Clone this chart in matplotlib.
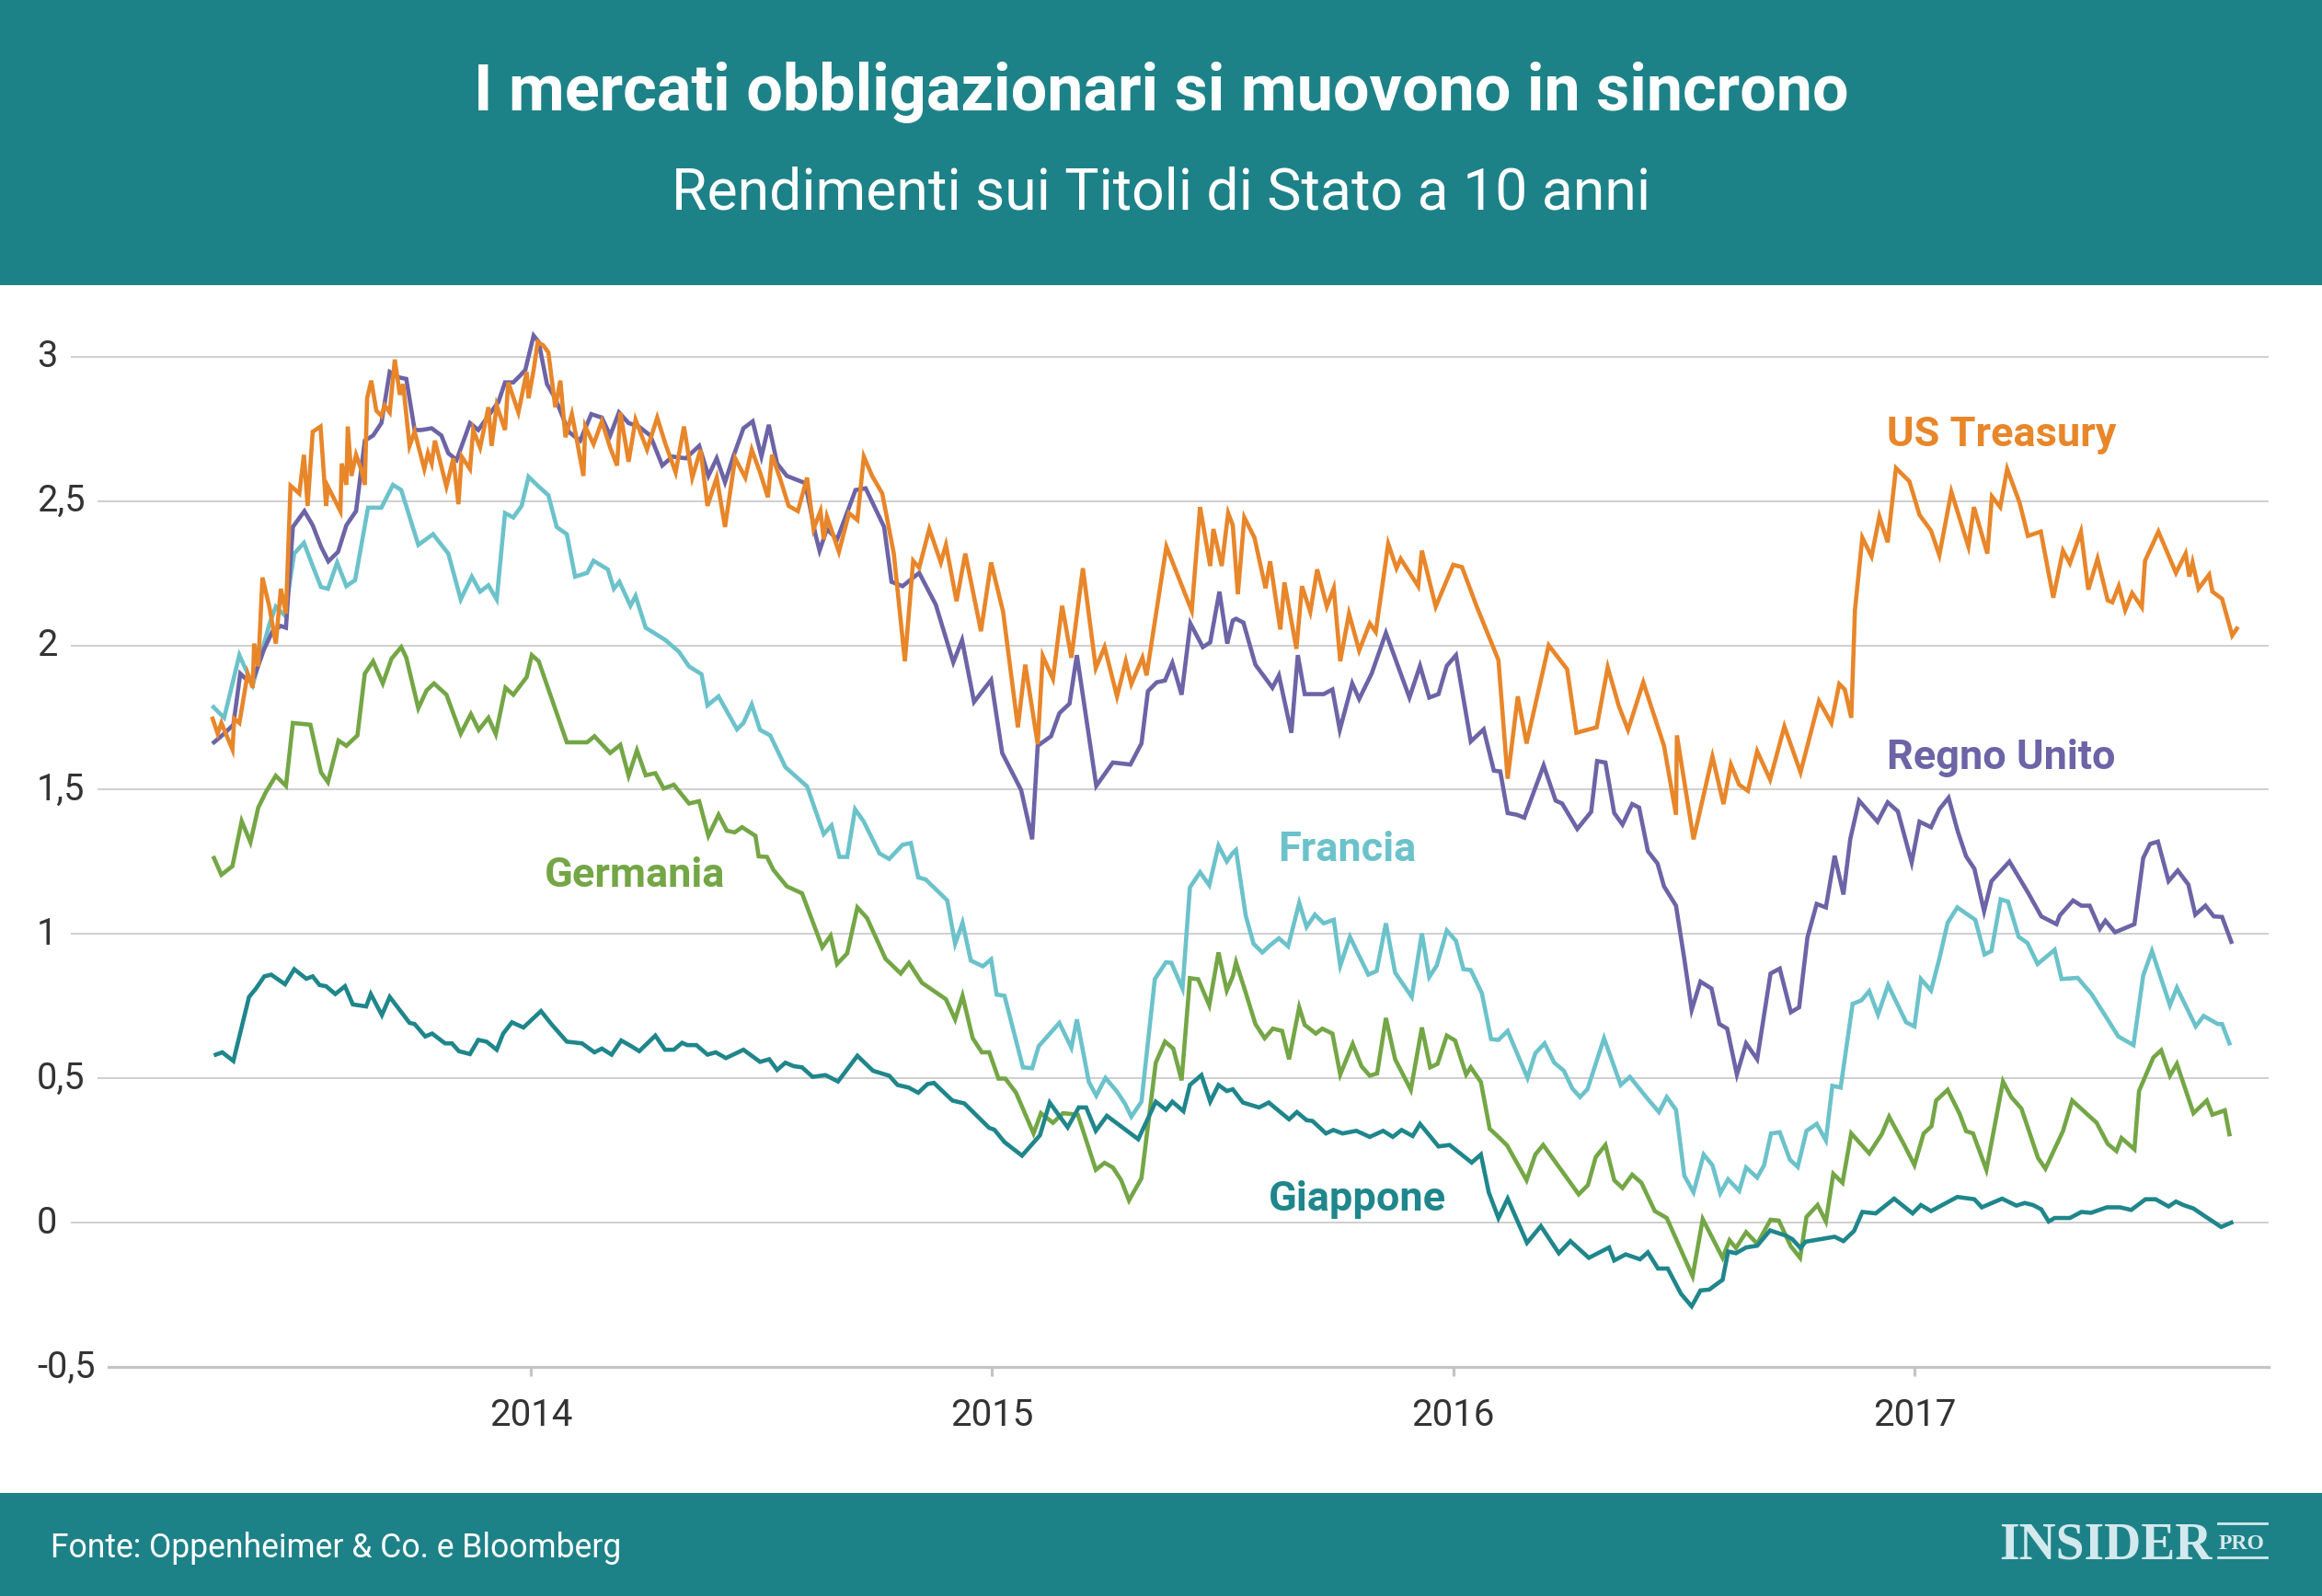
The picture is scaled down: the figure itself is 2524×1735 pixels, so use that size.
import matplotlib
matplotlib.use("Agg")
import matplotlib.pyplot as plt
from matplotlib.patches import Rectangle
from matplotlib.lines import Line2D
import matplotlib.transforms as mtransforms

# ---------------- DATA (decimal year, 10y yield %) ----------------
us_treasury = [
    (2013.310, 1.746), (2013.321, 1.694), (2013.329, 1.731), (2013.353, 1.639), (2013.357, 1.746),
    (2013.368, 1.731), (2013.386, 1.902), (2013.397, 1.853), (2013.400, 2.006), (2013.409, 1.927),
    (2013.418, 2.235), (2013.433, 2.134), (2013.447, 2.006), (2013.458, 2.196), (2013.469, 2.110),
    (2013.479, 2.553), (2013.498, 2.526), (2013.508, 2.660), (2013.516, 2.483), (2013.527, 2.740),
    (2013.544, 2.758), (2013.556, 2.483), (2013.560, 2.550), (2013.587, 2.465), (2013.590, 2.630),
    (2013.600, 2.556), (2013.603, 2.758), (2013.611, 2.587), (2013.621, 2.660), (2013.632, 2.611),
    (2013.640, 2.556), (2013.645, 2.856), (2013.654, 2.917), (2013.665, 2.813), (2013.676, 2.795),
    (2013.683, 2.831), (2013.694, 2.807), (2013.705, 2.990), (2013.716, 2.868), (2013.723, 2.905),
    (2013.737, 2.691), (2013.748, 2.740), (2013.769, 2.611), (2013.777, 2.666), (2013.785, 2.630),
    (2013.792, 2.709), (2013.817, 2.550), (2013.832, 2.648), (2013.843, 2.489), (2013.850, 2.654),
    (2013.868, 2.611), (2013.875, 2.746), (2013.890, 2.685), (2013.908, 2.825), (2013.915, 2.691),
    (2013.926, 2.831), (2013.944, 2.746), (2013.951, 2.911), (2013.973, 2.807), (2013.991, 2.947),
    (2013.995, 2.856), (2014.006, 2.954), (2014.015, 3.051), (2014.027, 3.039), (2014.038, 3.015),
    (2014.053, 2.825), (2014.064, 2.917), (2014.075, 2.721), (2014.089, 2.801), (2014.100, 2.709),
    (2014.114, 2.587), (2014.118, 2.758), (2014.136, 2.697), (2014.154, 2.776), (2014.172, 2.685),
    (2014.187, 2.623), (2014.194, 2.807), (2014.212, 2.636), (2014.227, 2.782), (2014.252, 2.678),
    (2014.274, 2.789), (2014.292, 2.697), (2014.314, 2.599), (2014.332, 2.758), (2014.350, 2.581),
    (2014.368, 2.678), (2014.383, 2.483), (2014.403, 2.581), (2014.421, 2.410), (2014.443, 2.648),
    (2014.465, 2.581), (2014.479, 2.678), (2014.497, 2.599), (2014.514, 2.513), (2014.523, 2.660),
    (2014.541, 2.575), (2014.559, 2.483), (2014.579, 2.465), (2014.599, 2.581), (2014.613, 2.403),
    (2014.628, 2.465), (2014.635, 2.367), (2014.642, 2.446), (2014.668, 2.324), (2014.690, 2.458),
    (2014.708, 2.434), (2014.722, 2.654), (2014.740, 2.587), (2014.762, 2.526), (2014.787, 2.318),
    (2014.811, 1.945), (2014.829, 2.293), (2014.842, 2.269), (2014.864, 2.403), (2014.889, 2.287),
    (2014.900, 2.348), (2014.923, 2.153), (2014.942, 2.318), (2014.976, 2.049), (2014.998, 2.287),
    (2015.024, 2.116), (2015.056, 1.716), (2015.072, 1.933), (2015.099, 1.658), (2015.110, 1.963),
    (2015.132, 1.884), (2015.152, 2.137), (2015.172, 1.957), (2015.197, 2.267), (2015.225, 1.921),
    (2015.244, 1.994), (2015.271, 1.823), (2015.290, 1.945), (2015.302, 1.866), (2015.326, 1.957),
    (2015.335, 1.896), (2015.378, 2.342), (2015.433, 2.120), (2015.451, 2.479), (2015.473, 2.275),
    (2015.480, 2.403), (2015.498, 2.275), (2015.512, 2.458), (2015.522, 2.416), (2015.533, 2.177),
    (2015.547, 2.443), (2015.569, 2.373), (2015.593, 2.198), (2015.603, 2.291), (2015.625, 2.055),
    (2015.634, 2.218), (2015.660, 1.988), (2015.672, 2.205), (2015.690, 2.116), (2015.705, 2.263),
    (2015.726, 2.134), (2015.741, 2.198), (2015.755, 1.945), (2015.774, 2.110), (2015.796, 1.982),
    (2015.819, 2.076), (2015.832, 2.046), (2015.859, 2.352), (2015.877, 2.267), (2015.886, 2.300),
    (2015.924, 2.205), (2015.932, 2.328), (2015.962, 2.134), (2016.000, 2.279), (2016.019, 2.271),
    (2016.051, 2.134), (2016.098, 1.949), (2016.118, 1.538), (2016.140, 1.823), (2016.159, 1.660),
    (2016.207, 2.000), (2016.247, 1.917), (2016.267, 1.697), (2016.311, 1.716), (2016.335, 1.924),
    (2016.359, 1.790), (2016.379, 1.707), (2016.412, 1.872), (2016.457, 1.652), (2016.483, 1.413),
    (2016.485, 1.688), (2016.521, 1.328), (2016.562, 1.615), (2016.586, 1.450), (2016.602, 1.587),
    (2016.620, 1.517), (2016.639, 1.496), (2016.659, 1.633), (2016.687, 1.535), (2016.718, 1.719),
    (2016.753, 1.560), (2016.793, 1.807), (2016.820, 1.731), (2016.837, 1.866), (2016.849, 1.847),
    (2016.863, 1.749), (2016.871, 2.122), (2016.887, 2.373), (2016.907, 2.308), (2016.924, 2.446),
    (2016.942, 2.357), (2016.960, 2.614), (2016.989, 2.568), (2017.011, 2.452), (2017.036, 2.397),
    (2017.054, 2.312), (2017.080, 2.532), (2017.117, 2.342), (2017.129, 2.479), (2017.158, 2.318),
    (2017.168, 2.516), (2017.186, 2.479), (2017.201, 2.611), (2017.228, 2.494), (2017.246, 2.379),
    (2017.274, 2.394), (2017.301, 2.165), (2017.322, 2.328), (2017.337, 2.284), (2017.361, 2.394),
    (2017.377, 2.193), (2017.397, 2.300), (2017.419, 2.156), (2017.429, 2.149), (2017.443, 2.205),
    (2017.457, 2.122), (2017.472, 2.181), (2017.493, 2.132), (2017.500, 2.293), (2017.529, 2.394),
    (2017.567, 2.251), (2017.588, 2.318), (2017.596, 2.238), (2017.603, 2.287), (2017.616, 2.196),
    (2017.639, 2.245), (2017.646, 2.186), (2017.667, 2.161), (2017.689, 2.034), (2017.699, 2.058),
]

regno_unito = [
    (2013.313, 1.664), (2013.335, 1.694), (2013.355, 1.725), (2013.370, 1.902), (2013.386, 1.878),
    (2013.400, 1.890), (2013.422, 1.988), (2013.440, 2.049), (2013.458, 2.067), (2013.469, 2.061),
    (2013.484, 2.410), (2013.509, 2.465), (2013.527, 2.416), (2013.545, 2.342), (2013.561, 2.291),
    (2013.582, 2.324), (2013.600, 2.416), (2013.621, 2.465), (2013.640, 2.709), (2013.658, 2.727),
    (2013.676, 2.770), (2013.694, 2.947), (2013.712, 2.929), (2013.730, 2.923), (2013.748, 2.746),
    (2013.763, 2.746), (2013.785, 2.752), (2013.806, 2.727), (2013.821, 2.666), (2013.839, 2.642),
    (2013.868, 2.770), (2013.886, 2.746), (2013.908, 2.795), (2013.930, 2.844), (2013.944, 2.911),
    (2013.962, 2.911), (2013.977, 2.935), (2013.988, 2.954), (2014.006, 3.073), (2014.017, 3.051),
    (2014.035, 2.905), (2014.053, 2.856), (2014.082, 2.740), (2014.107, 2.709), (2014.131, 2.801),
    (2014.154, 2.789), (2014.172, 2.727), (2014.191, 2.807), (2014.212, 2.770), (2014.234, 2.758),
    (2014.259, 2.727), (2014.285, 2.623), (2014.307, 2.654), (2014.336, 2.648), (2014.365, 2.691),
    (2014.385, 2.587), (2014.403, 2.648), (2014.421, 2.565), (2014.439, 2.654), (2014.461, 2.752),
    (2014.481, 2.776), (2014.500, 2.654), (2014.516, 2.764), (2014.534, 2.630), (2014.555, 2.587),
    (2014.595, 2.562), (2014.617, 2.385), (2014.626, 2.328), (2014.642, 2.403), (2014.664, 2.367),
    (2014.704, 2.538), (2014.726, 2.544), (2014.766, 2.410), (2014.782, 2.220), (2014.806, 2.205),
    (2014.842, 2.251), (2014.878, 2.141), (2014.916, 1.941), (2014.935, 2.018), (2014.961, 1.804),
    (2014.998, 1.880), (2015.022, 1.627), (2015.063, 1.499), (2015.087, 1.328), (2015.099, 1.652),
    (2015.128, 1.685), (2015.146, 1.765), (2015.168, 1.798), (2015.184, 1.966), (2015.226, 1.513),
    (2015.262, 1.594), (2015.300, 1.587), (2015.324, 1.660), (2015.338, 1.841), (2015.357, 1.872),
    (2015.375, 1.878), (2015.391, 1.939), (2015.411, 1.829), (2015.430, 2.076), (2015.457, 1.994),
    (2015.473, 2.010), (2015.493, 2.186), (2015.510, 2.006), (2015.522, 2.086), (2015.529, 2.092),
    (2015.545, 2.079), (2015.571, 1.933), (2015.591, 1.890), (2015.608, 1.853), (2015.622, 1.896),
    (2015.649, 1.697), (2015.663, 1.966), (2015.678, 1.831), (2015.719, 1.831), (2015.738, 1.847),
    (2015.754, 1.707), (2015.781, 1.868), (2015.796, 1.814), (2015.823, 1.902), (2015.854, 2.043),
    (2015.905, 1.819), (2015.928, 1.929), (2015.948, 1.819), (2015.968, 1.831), (2015.986, 1.929),
    (2016.006, 1.966), (2016.038, 1.667), (2016.066, 1.709), (2016.088, 1.566), (2016.102, 1.563),
    (2016.118, 1.419), (2016.138, 1.413), (2016.154, 1.403), (2016.196, 1.584), (2016.222, 1.462),
    (2016.236, 1.452), (2016.269, 1.364), (2016.299, 1.423), (2016.312, 1.599), (2016.330, 1.594),
    (2016.349, 1.419), (2016.367, 1.379), (2016.388, 1.450), (2016.403, 1.438), (2016.422, 1.287),
    (2016.443, 1.244), (2016.457, 1.165), (2016.483, 1.098), (2016.501, 0.914), (2016.517, 0.737),
    (2016.536, 0.835), (2016.560, 0.811), (2016.577, 0.688), (2016.594, 0.672), (2016.615, 0.513),
    (2016.635, 0.621), (2016.659, 0.566), (2016.688, 0.863), (2016.708, 0.880), (2016.732, 0.729),
    (2016.750, 0.746), (2016.768, 0.988), (2016.788, 1.104), (2016.808, 1.092), (2016.827, 1.271),
    (2016.846, 1.137), (2016.861, 1.330), (2016.880, 1.462), (2016.920, 1.389), (2016.942, 1.456),
    (2016.964, 1.425), (2016.994, 1.248), (2017.011, 1.389), (2017.036, 1.370), (2017.054, 1.432),
    (2017.074, 1.472), (2017.094, 1.355), (2017.112, 1.269), (2017.130, 1.226), (2017.151, 1.079),
    (2017.167, 1.183), (2017.206, 1.251), (2017.246, 1.144), (2017.275, 1.061), (2017.308, 1.034),
    (2017.315, 1.064), (2017.344, 1.116), (2017.362, 1.098), (2017.380, 1.098), (2017.402, 1.018),
    (2017.414, 1.046), (2017.435, 1.006), (2017.477, 1.034), (2017.496, 1.263), (2017.511, 1.312),
    (2017.528, 1.320), (2017.551, 1.183), (2017.571, 1.220), (2017.594, 1.171), (2017.609, 1.067),
    (2017.631, 1.098), (2017.649, 1.061), (2017.667, 1.059), (2017.687, 0.973),
]

francia = [
    (2013.312, 1.786), (2013.335, 1.749), (2013.368, 1.966), (2013.397, 1.863), (2013.433, 2.073),
    (2013.447, 2.134), (2013.466, 2.104), (2013.487, 2.318), (2013.508, 2.355), (2013.527, 2.275),
    (2013.545, 2.202), (2013.560, 2.196), (2013.580, 2.287), (2013.600, 2.205), (2013.619, 2.226),
    (2013.647, 2.477), (2013.676, 2.477), (2013.701, 2.556), (2013.719, 2.538), (2013.756, 2.348),
    (2013.788, 2.385), (2013.821, 2.318), (2013.848, 2.159), (2013.872, 2.238), (2013.890, 2.186),
    (2013.908, 2.208), (2013.926, 2.159), (2013.944, 2.458), (2013.962, 2.443), (2013.980, 2.483),
    (2013.995, 2.584), (2014.017, 2.550), (2014.038, 2.520), (2014.056, 2.410), (2014.078, 2.385),
    (2014.096, 2.238), (2014.122, 2.251), (2014.136, 2.293), (2014.167, 2.263), (2014.180, 2.196),
    (2014.192, 2.220), (2014.216, 2.137), (2014.227, 2.171), (2014.249, 2.061), (2014.292, 2.018),
    (2014.321, 1.978), (2014.343, 1.927), (2014.370, 1.900), (2014.383, 1.792), (2014.407, 1.823),
    (2014.447, 1.709), (2014.461, 1.731), (2014.479, 1.795), (2014.497, 1.707), (2014.519, 1.688),
    (2014.552, 1.578), (2014.599, 1.511), (2014.635, 1.346), (2014.652, 1.376), (2014.669, 1.267),
    (2014.686, 1.267), (2014.703, 1.432), (2014.722, 1.389), (2014.756, 1.279), (2014.777, 1.260),
    (2014.806, 1.309), (2014.824, 1.315), (2014.840, 1.196), (2014.856, 1.189), (2014.903, 1.116),
    (2014.920, 0.966), (2014.936, 1.039), (2014.954, 0.908), (2014.980, 0.888), (2014.998, 0.912),
    (2015.010, 0.790), (2015.027, 0.786), (2015.067, 0.538), (2015.087, 0.535), (2015.101, 0.611),
    (2015.146, 0.692), (2015.172, 0.606), (2015.184, 0.704), (2015.210, 0.487), (2015.226, 0.440),
    (2015.246, 0.501), (2015.270, 0.456), (2015.288, 0.413), (2015.302, 0.367), (2015.324, 0.419),
    (2015.353, 0.844), (2015.377, 0.902), (2015.389, 0.900), (2015.413, 0.811), (2015.429, 1.161),
    (2015.451, 1.214), (2015.471, 1.169), (2015.491, 1.306), (2015.509, 1.251), (2015.522, 1.281),
    (2015.529, 1.291), (2015.550, 1.064), (2015.567, 0.966), (2015.586, 0.936), (2015.603, 0.961),
    (2015.622, 0.985), (2015.642, 0.957), (2015.666, 1.108), (2015.682, 1.024), (2015.700, 1.067),
    (2015.719, 1.037), (2015.741, 1.049), (2015.755, 0.890), (2015.776, 0.990), (2015.796, 0.924),
    (2015.816, 0.859), (2015.834, 0.872), (2015.854, 1.037), (2015.874, 0.866), (2015.910, 0.782),
    (2015.932, 1.002), (2015.948, 0.851), (2015.964, 0.890), (2015.986, 1.012), (2016.006, 0.976),
    (2016.022, 0.878), (2016.038, 0.875), (2016.062, 0.795), (2016.082, 0.636), (2016.098, 0.633),
    (2016.118, 0.664), (2016.161, 0.501), (2016.178, 0.587), (2016.198, 0.621), (2016.219, 0.554),
    (2016.240, 0.526), (2016.258, 0.465), (2016.275, 0.435), (2016.291, 0.462), (2016.327, 0.639),
    (2016.363, 0.477), (2016.383, 0.505), (2016.422, 0.428), (2016.446, 0.383), (2016.463, 0.435),
    (2016.483, 0.391), (2016.501, 0.163), (2016.521, 0.105), (2016.543, 0.236), (2016.562, 0.199),
    (2016.579, 0.102), (2016.596, 0.150), (2016.620, 0.110), (2016.635, 0.191), (2016.659, 0.156),
    (2016.674, 0.199), (2016.689, 0.309), (2016.708, 0.313), (2016.730, 0.218), (2016.747, 0.193),
    (2016.766, 0.318), (2016.788, 0.342), (2016.808, 0.285), (2016.822, 0.474), (2016.840, 0.468),
    (2016.866, 0.758), (2016.885, 0.770), (2016.902, 0.802), (2016.921, 0.721), (2016.943, 0.823),
    (2016.982, 0.694), (2017.000, 0.680), (2017.014, 0.844), (2017.036, 0.804), (2017.054, 0.914),
    (2017.072, 1.039), (2017.093, 1.092), (2017.132, 1.049), (2017.152, 0.929), (2017.167, 0.941),
    (2017.187, 1.120), (2017.203, 1.112), (2017.226, 0.990), (2017.245, 0.969), (2017.267, 0.896),
    (2017.304, 0.945), (2017.319, 0.844), (2017.354, 0.848), (2017.384, 0.792), (2017.413, 0.719),
    (2017.442, 0.645), (2017.475, 0.615), (2017.496, 0.856), (2017.515, 0.941), (2017.554, 0.753),
    (2017.569, 0.814), (2017.610, 0.680), (2017.627, 0.716), (2017.658, 0.688), (2017.667, 0.688),
    (2017.683, 0.621),
]

germania = [
    (2013.313, 1.263), (2013.329, 1.205), (2013.353, 1.235), (2013.373, 1.391), (2013.392, 1.318),
    (2013.409, 1.438), (2013.426, 1.493), (2013.447, 1.548), (2013.469, 1.513), (2013.484, 1.731),
    (2013.522, 1.725), (2013.545, 1.560), (2013.560, 1.526), (2013.583, 1.670), (2013.600, 1.652),
    (2013.624, 1.688), (2013.640, 1.902), (2013.658, 1.945), (2013.679, 1.868), (2013.698, 1.954),
    (2013.719, 1.994), (2013.730, 1.957), (2013.756, 1.782), (2013.774, 1.844), (2013.790, 1.868),
    (2013.817, 1.829), (2013.848, 1.694), (2013.870, 1.762), (2013.887, 1.707), (2013.908, 1.749),
    (2013.924, 1.692), (2013.945, 1.853), (2013.962, 1.829), (2013.991, 1.890), (2014.002, 1.966),
    (2014.017, 1.945), (2014.078, 1.664), (2014.122, 1.664), (2014.138, 1.685), (2014.172, 1.627),
    (2014.194, 1.655), (2014.212, 1.548), (2014.230, 1.636), (2014.249, 1.550), (2014.270, 1.557),
    (2014.288, 1.504), (2014.310, 1.517), (2014.343, 1.452), (2014.365, 1.460), (2014.385, 1.340),
    (2014.407, 1.413), (2014.425, 1.358), (2014.442, 1.352), (2014.458, 1.370), (2014.487, 1.340),
    (2014.494, 1.269), (2014.512, 1.267), (2014.526, 1.222), (2014.555, 1.165), (2014.588, 1.141),
    (2014.632, 0.954), (2014.650, 0.994), (2014.664, 0.896), (2014.686, 0.933), (2014.708, 1.092),
    (2014.729, 1.055), (2014.769, 0.914), (2014.802, 0.863), (2014.820, 0.900), (2014.848, 0.831),
    (2014.900, 0.774), (2014.920, 0.704), (2014.936, 0.786), (2014.958, 0.639), (2014.978, 0.590),
    (2014.994, 0.590), (2015.014, 0.499), (2015.029, 0.499), (2015.052, 0.450), (2015.090, 0.309),
    (2015.106, 0.379), (2015.132, 0.346), (2015.154, 0.379), (2015.186, 0.374), (2015.225, 0.183),
    (2015.244, 0.207), (2015.262, 0.191), (2015.280, 0.147), (2015.297, 0.077), (2015.324, 0.154),
    (2015.355, 0.554), (2015.375, 0.627), (2015.393, 0.603), (2015.411, 0.493), (2015.429, 0.847),
    (2015.447, 0.843), (2015.471, 0.753), (2015.491, 0.936), (2015.509, 0.804), (2015.522, 0.853),
    (2015.529, 0.902), (2015.551, 0.792), (2015.571, 0.688), (2015.591, 0.639), (2015.609, 0.672),
    (2015.629, 0.664), (2015.644, 0.566), (2015.666, 0.746), (2015.678, 0.685), (2015.702, 0.655),
    (2015.716, 0.672), (2015.738, 0.655), (2015.755, 0.513), (2015.782, 0.619), (2015.801, 0.542),
    (2015.819, 0.509), (2015.835, 0.517), (2015.854, 0.709), (2015.874, 0.566), (2015.908, 0.460),
    (2015.932, 0.676), (2015.950, 0.538), (2015.966, 0.550), (2015.986, 0.648), (2016.004, 0.631),
    (2016.028, 0.513), (2016.038, 0.538), (2016.060, 0.487), (2016.079, 0.325), (2016.098, 0.297),
    (2016.117, 0.267), (2016.159, 0.147), (2016.178, 0.236), (2016.195, 0.269), (2016.272, 0.098),
    (2016.292, 0.130), (2016.309, 0.227), (2016.330, 0.269), (2016.349, 0.147), (2016.367, 0.120),
    (2016.388, 0.166), (2016.408, 0.138), (2016.437, 0.040), (2016.463, 0.016), (2016.519, -0.186),
    (2016.541, 0.012), (2016.584, -0.122), (2016.599, -0.061), (2016.613, -0.088), (2016.635, -0.033),
    (2016.659, -0.073), (2016.688, 0.010), (2016.706, 0.007), (2016.732, -0.082), (2016.752, -0.122),
    (2016.766, 0.020), (2016.790, 0.061), (2016.808, 0.004), (2016.824, 0.169), (2016.844, 0.138),
    (2016.863, 0.309), (2016.902, 0.240), (2016.929, 0.306), (2016.945, 0.367), (2016.978, 0.269),
    (2017.000, 0.199), (2017.020, 0.309), (2017.037, 0.334), (2017.047, 0.423), (2017.072, 0.460),
    (2017.098, 0.377), (2017.112, 0.317), (2017.127, 0.309), (2017.156, 0.183), (2017.192, 0.489),
    (2017.210, 0.435), (2017.232, 0.395), (2017.268, 0.224), (2017.284, 0.187), (2017.322, 0.317),
    (2017.342, 0.423), (2017.395, 0.346), (2017.419, 0.273), (2017.438, 0.248), (2017.449, 0.293),
    (2017.477, 0.254), (2017.487, 0.456), (2017.518, 0.572), (2017.535, 0.597), (2017.554, 0.509),
    (2017.569, 0.550), (2017.605, 0.379), (2017.634, 0.423), (2017.646, 0.374), (2017.673, 0.389),
    (2017.683, 0.306),
]

giappone = [
    (2013.317, 0.582), (2013.331, 0.590), (2013.355, 0.560), (2013.389, 0.782), (2013.404, 0.811),
    (2013.422, 0.853), (2013.437, 0.859), (2013.467, 0.826), (2013.487, 0.878), (2013.513, 0.845),
    (2013.527, 0.853), (2013.542, 0.823), (2013.556, 0.819), (2013.576, 0.792), (2013.597, 0.819),
    (2013.614, 0.756), (2013.643, 0.749), (2013.653, 0.792), (2013.677, 0.719), (2013.694, 0.782),
    (2013.737, 0.692), (2013.748, 0.688), (2013.771, 0.645), (2013.786, 0.655), (2013.814, 0.621),
    (2013.829, 0.621), (2013.844, 0.594), (2013.868, 0.584), (2013.886, 0.633), (2013.904, 0.627),
    (2013.926, 0.599), (2013.940, 0.655), (2013.959, 0.694), (2013.984, 0.676), (2014.022, 0.733),
    (2014.046, 0.685), (2014.078, 0.627), (2014.111, 0.621), (2014.138, 0.590), (2014.154, 0.603),
    (2014.175, 0.582), (2014.196, 0.631), (2014.218, 0.611), (2014.235, 0.594), (2014.270, 0.648),
    (2014.291, 0.599), (2014.310, 0.599), (2014.328, 0.623), (2014.339, 0.615), (2014.359, 0.615),
    (2014.383, 0.582), (2014.401, 0.590), (2014.423, 0.570), (2014.461, 0.599), (2014.497, 0.557),
    (2014.517, 0.566), (2014.534, 0.529), (2014.552, 0.554), (2014.570, 0.542), (2014.588, 0.538),
    (2014.611, 0.505), (2014.639, 0.511), (2014.666, 0.489), (2014.708, 0.578), (2014.742, 0.526),
    (2014.777, 0.509), (2014.795, 0.477), (2014.819, 0.468), (2014.840, 0.450), (2014.860, 0.480),
    (2014.874, 0.484), (2014.914, 0.423), (2014.940, 0.413), (2014.994, 0.328), (2015.005, 0.322),
    (2015.027, 0.279), (2015.065, 0.232), (2015.104, 0.303), (2015.125, 0.416), (2015.164, 0.330),
    (2015.188, 0.399), (2015.204, 0.399), (2015.225, 0.318), (2015.249, 0.370), (2015.317, 0.289),
    (2015.355, 0.419), (2015.377, 0.391), (2015.391, 0.419), (2015.415, 0.386), (2015.429, 0.477),
    (2015.454, 0.511), (2015.473, 0.419), (2015.491, 0.477), (2015.509, 0.456), (2015.522, 0.462),
    (2015.544, 0.416), (2015.579, 0.399), (2015.600, 0.416), (2015.644, 0.358), (2015.661, 0.383),
    (2015.682, 0.355), (2015.695, 0.352), (2015.724, 0.309), (2015.740, 0.321), (2015.760, 0.309),
    (2015.790, 0.318), (2015.819, 0.297), (2015.848, 0.318), (2015.869, 0.297), (2015.888, 0.321),
    (2015.912, 0.300), (2015.928, 0.342), (2015.968, 0.264), (2015.992, 0.269), (2016.040, 0.208),
    (2016.060, 0.236), (2016.077, 0.105), (2016.098, 0.016), (2016.118, 0.083), (2016.160, -0.070),
    (2016.190, -0.012), (2016.229, -0.106), (2016.254, -0.064), (2016.294, -0.122), (2016.338, -0.086),
    (2016.349, -0.131), (2016.374, -0.110), (2016.405, -0.127), (2016.422, -0.103), (2016.444, -0.159),
    (2016.465, -0.159), (2016.494, -0.247), (2016.517, -0.290), (2016.536, -0.235), (2016.555, -0.232),
    (2016.584, -0.198), (2016.596, -0.100), (2016.613, -0.106), (2016.635, -0.086), (2016.659, -0.080),
    (2016.687, -0.027), (2016.721, -0.045), (2016.735, -0.057), (2016.753, -0.088), (2016.764, -0.066),
    (2016.827, -0.049), (2016.846, -0.064), (2016.869, -0.029), (2016.887, 0.037), (2016.916, 0.032),
    (2016.956, 0.083), (2016.996, 0.032), (2017.014, 0.061), (2017.036, 0.040), (2017.093, 0.089),
    (2017.130, 0.081), (2017.146, 0.053), (2017.190, 0.083), (2017.221, 0.059), (2017.239, 0.068),
    (2017.257, 0.061), (2017.275, 0.046), (2017.291, 0.004), (2017.304, 0.016), (2017.337, 0.016),
    (2017.362, 0.037), (2017.383, 0.034), (2017.417, 0.053), (2017.446, 0.053), (2017.470, 0.044),
    (2017.501, 0.081), (2017.523, 0.081), (2017.551, 0.056), (2017.567, 0.073), (2017.583, 0.061),
    (2017.605, 0.049), (2017.630, 0.022), (2017.665, -0.015), (2017.687, 0.000),
]

y_ticks = [-0.5, 0, 0.5, 1, 1.5, 2, 2.5, 3]
y_tick_labels = ["-0,5", "0", "0,5", "1", "1,5", "2", "2,5", "3"]
x_ticks = [2014, 2015, 2016, 2017]
x_tick_labels = ["2014", "2015", "2016", "2017"]

title = "I mercati obbligazionari si muovono in sincrono"
subtitle = "Rendimenti sui Titoli di Stato a 10 anni"
source = "Fonte: Oppenheimer & Co. e Bloomberg"

# ---------------- STYLE ----------------
W, H = 2524, 1735
DPI = 100
TEAL = "#1d8288"
C_US = "#e8862a"
C_UK = "#6c64a6"
C_FR = "#6cc2ca"
C_DE = "#74a646"
C_JP = "#1f868b"
GRID = "#cccccc"
TEXT = "#333333"
FONT = "Roboto"

plt.rcParams["font.family"] = [FONT, "DejaVu Sans"]

fig = plt.figure(figsize=(W / DPI, H / DPI), dpi=DPI)
fig.patch.set_facecolor("white")


def fx(px):
    return px / W


def fy(py):
    return 1 - py / H


# header & footer bands
fig.patches.append(Rectangle((0, fy(310)), 1, 310 / H, transform=fig.transFigure,
                             facecolor=TEAL, edgecolor="none", zorder=0))
fig.patches.append(Rectangle((0, 0), 1, (H - 1623) / H, transform=fig.transFigure,
                             facecolor=TEAL, edgecolor="none", zorder=0))

fig.text(0.5, fy(100), title, color="white", fontsize=50.5, fontweight="bold",
         ha="center", va="center", family=FONT)
fig.text(0.5, fy(210), subtitle, color="white", fontsize=45, fontweight="normal",
         ha="center", va="center", family=FONT)
fig.text(fx(55), fy(1683), source, color="white", fontsize=25.6,
         ha="left", va="center", family=FONT)

# logo
LOGO = "#d3e9ed"
fig.text(fx(2173), fy(1694), "INSIDER", color=LOGO, fontsize=40, fontweight="bold",
         ha="left", va="baseline", family=["Liberation Serif", "DejaVu Serif"])
fig.text(fx(2437), fy(1684), "PRO", color=LOGO, fontsize=17, fontweight="bold",
         ha="center", va="baseline", family=["Liberation Serif", "DejaVu Serif"])
for ly in (1656, 1693):
    fig.lines.append(Line2D([fx(2411), fx(2464)], [fy(ly), fy(ly)], transform=fig.transFigure,
                            color=LOGO, linewidth=2.0))

# axes
ax_left, ax_right = 77, 2466
ax_top, ax_bottom = 325, 1486
ax = fig.add_axes([fx(ax_left), fy(ax_bottom), (ax_right - ax_left) / W, (ax_bottom - ax_top) / H])
ax.set_facecolor("none")
ax.set_xlim(2013.0026, 2017.768)
ax.set_ylim(-0.5, 3.2)

for s in ("top", "right", "left"):
    ax.spines[s].set_visible(False)
ax.spines["bottom"].set_color("#c4c4c4")
ax.spines["bottom"].set_linewidth(2.3)

ax.set_yticks(y_ticks[1:])
ax.yaxis.grid(True, color=GRID, linewidth=1.3)
ax.tick_params(axis="y", left=False, labelleft=False)
ax.set_axisbelow(True)

ax.set_xticks(x_ticks)
ax.set_xticklabels(x_tick_labels)
ax.tick_params(axis="x", direction="out", length=7, width=2.3, color="#c4c4c4",
               labelsize=29, labelcolor=TEXT, pad=17)

trans = mtransforms.blended_transform_factory(fig.transFigure, ax.transData)
for v, lab in zip(y_ticks, y_tick_labels):
    fig.text(fx(40), v, lab, transform=trans, ha="left", va="center", fontsize=28.5,
             color=TEXT, family=FONT,
             bbox=dict(boxstyle="square,pad=0.35", facecolor="white", edgecolor="none"))

LW = 3.3
for series, col, z in ((germania, C_DE, 2), (giappone, C_JP, 3), (francia, C_FR, 4),
                       (regno_unito, C_UK, 5), (us_treasury, C_US, 6)):
    xs = [p[0] for p in series]
    ys = [p[1] for p in series]
    ax.plot(xs, ys, color=col, linewidth=LW, solid_joinstyle="miter", zorder=z)

# series labels
labels = [("US Treasury", C_US, 2051, 485), ("Regno Unito", C_UK, 2051, 836),
          ("Francia", C_FR, 1389, 936), ("Germania", C_DE, 592, 964),
          ("Giappone", C_JP, 1379, 1316)]
for txt, col, px, py in labels:
    fig.text(fx(px), fy(py), txt, color=col, fontsize=32.5, fontweight="bold",
             ha="left", va="baseline", family=FONT)

fig.savefig("out.png", dpi=DPI, facecolor="white")
